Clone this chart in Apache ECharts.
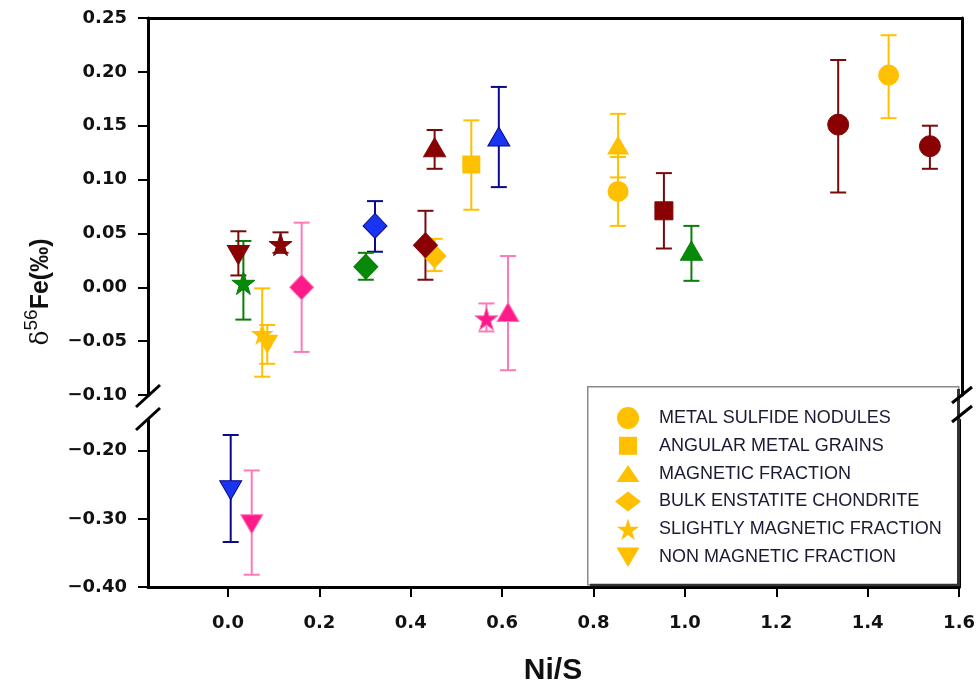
<!DOCTYPE html>
<html>
<head>
<meta charset="utf-8">
<script src="https://cdn.jsdelivr.net/npm/echarts@6/dist/echarts.min.js"></script>
<style>html,body{margin:0;padding:0;background:#fff}#c{width:978px;height:688px}</style>
</head>
<body>
<div id="c"></div>
<script>
// ---- data: [Ni/S, d56Fe, errLow, errHigh, group] ----
const categoryNames = ['METAL SULFIDE NODULES','ANGULAR METAL GRAINS','MAGNETIC FRACTION','BULK ENSTATITE CHONDRITE','SLIGHTLY MAGNETIC FRACTION','NON MAGNETIC FRACTION'];
const metalSulfideNodules = [
  [0.85, 0.089, 0.057, 0.121, 'gold'],
  [1.44, 0.197, 0.157, 0.234, 'gold'],
  [1.33, 0.151, 0.088, 0.211, 'red'],
  [1.53, 0.131, 0.110, 0.150, 'red']
];
const angularMetalGrains = [
  [0.53, 0.114, 0.072, 0.155, 'gold'],
  [0.95, 0.071, 0.036, 0.106, 'red']
];
const magneticFraction = [
  [0.85, 0.132, 0.102, 0.161, 'gold'],
  [0.45, 0.130, 0.110, 0.146, 'red'],
  [0.59, 0.140, 0.093, 0.186, 'blue'],
  [1.01, 0.034, 0.006, 0.057, 'green'],
  [0.61, -0.023, -0.077, 0.029, 'pink']
];
const bulkEnstatiteChondrite = [
  [0.45, 0.029, 0.015, 0.045, 'gold'],
  [0.43, 0.039, 0.007, 0.071, 'red'],
  [0.32, 0.057, 0.033, 0.080, 'blue'],
  [0.30, 0.019, 0.007, 0.032, 'green'],
  [0.16, 0.000, -0.060, 0.060, 'pink']
];
const slightlyMagneticFraction = [
  [0.074, -0.043, -0.083, -0.001, 'gold'],
  [0.114, 0.040, 0.032, 0.051, 'red'],
  [0.033, 0.004, -0.030, 0.043, 'green'],
  [0.563, -0.029, -0.041, -0.015, 'pink']
];
const nonMagneticFraction = [
  [0.085, -0.053, -0.071, -0.035, 'gold'],
  [0.022, 0.030, 0.011, 0.052, 'red'],
  [0.006, -0.258, -0.334, -0.177, 'blue'],
  [0.052, -0.308, -0.382, -0.229, 'pink']
];
const xTicks = [0.0, 0.2, 0.4, 0.6, 0.8, 1.0, 1.2, 1.4, 1.6];
const yTicksLower = [-0.40, -0.30, -0.20];

// ---- styles ----
const fill = {gold:'#FFC000', red:'#8B0000', blue:'#1A35F2', green:'#078A07', pink:'#FF1A8C'};
const bar  = {gold:'#FFC000', red:'#7A0A0A', blue:'#0A0A8C', green:'#0A7D0A', pink:'#FF78B8'};
const starPath = 'path://M50,0 L61,35 L98,35 L68,57 L79,91 L50,70 L21,91 L32,57 L2,35 L39,35 Z';
const invTri = 'path://M0,0 L20,0 L10,17 Z';
// legend icons drawn inside a common 26x22 frame (frame set by leading moveTo points)
const FR = 'path://M0,0 M26,22 ';
const starIcon = FR + 'M13,0.3 L15.6,8.5 L24.2,8.5 L17.2,13.6 L19.8,21.7 L13,16.7 L6.2,21.7 L8.8,13.6 L1.8,8.5 L10.4,8.5 Z';
const shapes = [
  {data: metalSulfideNodules, symbol:'circle', size:21, icon:'circle'},
  {data: angularMetalGrains, symbol:'rect', size:18, icon: FR + 'M4,2 L22,2 L22,20 L4,20 Z'},
  {data: magneticFraction, symbol:'triangle', size:[22,19], icon: FR + 'M13,2.5 L24.5,19.5 L1.5,19.5 Z'},
  {data: bulkEnstatiteChondrite, symbol:'diamond', size:[24,25], icon: FR + 'M13,1 L26,11 L13,21 L0,11 Z'},
  {data: slightlyMagneticFraction, symbol:starPath, size:23, icon: starIcon},
  {data: nonMagneticFraction, symbol:invTri, size:[22,19], icon: FR + 'M1.5,1.5 L24.5,1.5 L13,21 Z'}
];
const BREAK = -0.12;
const inGrid = (p, g) => g === 0 ? p[1] > BREAK : p[1] <= BREAK;

const series = [];
// error bars
[0,1].forEach(g => {
  const pts = [];
  shapes.forEach(s => s.data.forEach(p => { if (inGrid(p,g)) pts.push([p[0], p[2], p[3], p[4]]); }));
  series.push({
    type:'custom', xAxisIndex:g, yAxisIndex: g*2, z:2, silent:true,
    encode:{x:0, y:[1,2]},
    data: pts,
    renderItem: (params, api) => {
      const x = api.value(0);
      const lo = api.coord([x, api.value(1)]);
      const hi = api.coord([x, api.value(2)]);
      const col = bar[pts[params.dataIndex][3]];
      const hw = 8;
      const st = {stroke: col, lineWidth: 2};
      return {type:'group', children:[
        {type:'line', shape:{x1:lo[0], y1:lo[1], x2:hi[0], y2:hi[1]}, style:st},
        {type:'line', shape:{x1:lo[0]-hw, y1:lo[1], x2:lo[0]+hw, y2:lo[1]}, style:st},
        {type:'line', shape:{x1:hi[0]-hw, y1:hi[1], x2:hi[0]+hw, y2:hi[1]}, style:st}
      ]};
    }
  });
});
// markers
shapes.forEach((s, i) => {
  [0,1].forEach(g => {
    const pts = s.data.filter(p => inGrid(p,g));
    if (!pts.length && g === 1) return;
    series.push({
      type:'scatter', name: categoryNames[i], xAxisIndex:g, yAxisIndex:g*2, z:5,
      symbol: s.symbol, symbolSize: s.size,
      itemStyle:{color: fill.gold, opacity:1},
      data: pts.map(p => ({value:[p[0], p[1]], itemStyle:{color: fill[p[4]], opacity:1, borderColor: bar[p[4]], borderWidth: p[4]==='gold'?0:1}}))
    });
  });
});

const axisLine = {show:true, onZero:false, lineStyle:{color:'#000', width:3}};
const tickFont = {fontFamily:'DejaVu Sans', fontWeight:'bold', fontSize:18, color:'#111'};
const fmtY = v => { const t = Math.abs(v) < 1e-9 ? '0.00' : v.toFixed(2); return t.replace('-', '\u2212'); };

const option = {
  animation:false,
  backgroundColor:'#fff',
  grid:[
    {left:148, right:16, top:18, height:377},
    {left:148, right:16, top:420, height:167}
  ],
  xAxis:[
    {gridIndex:0, type:'value', min:-0.175, max:1.6, position:'top', axisLine:axisLine,
     axisTick:{show:false}, axisLabel:{show:false}, splitLine:{show:false}},
    {gridIndex:1, type:'value', min:-0.175, max:1.6, position:'bottom', axisLine:axisLine,
     axisTick:{show:true, length:10, lineStyle:{color:'#000', width:2}, customValues:xTicks},
     axisLabel:Object.assign({customValues:xTicks, margin:27, formatter:v=>v.toFixed(1)}, tickFont),
     splitLine:{show:false}}
  ],
  yAxis:[
    {gridIndex:0, type:'value', min:-0.10, max:0.25, interval:0.05, position:'left', axisLine:axisLine,
     axisTick:{show:true, length:10, lineStyle:{color:'#000', width:2}},
     axisLabel:Object.assign({margin:21, formatter:fmtY}, tickFont), splitLine:{show:false}},
    {gridIndex:0, type:'value', min:-0.10, max:0.25, position:'right', axisLine:axisLine,
     axisTick:{show:false}, axisLabel:{show:false}, splitLine:{show:false}},
    {gridIndex:1, type:'value', min:-0.40, max:-0.155, position:'left', axisLine:axisLine,
     axisTick:{show:true, length:10, lineStyle:{color:'#000', width:2}, customValues:yTicksLower},
     axisLabel:Object.assign({margin:21, formatter:fmtY, customValues:yTicksLower}, tickFont), splitLine:{show:false}},
    {gridIndex:1, type:'value', min:-0.40, max:-0.155, position:'right', axisLine:axisLine,
     axisTick:{show:false}, axisLabel:{show:false}, splitLine:{show:false}}
  ],
  legend:{
    orient:'vertical', left:610, top:402, itemWidth:26, itemHeight:22, itemGap:5.8, selectedMode:false,
    textStyle:{fontFamily:'Liberation Sans, Arial', fontSize:18, color:'#1a1a33', padding:[0,0,0,13]},
    data: categoryNames.map((n,i) => ({name:n, icon: shapes[i].icon, itemStyle:{color:fill.gold, borderWidth:0, opacity:1}}))
  },
  graphic:[
    {type:'rect', left:587, top:386, z:1, shape:{width:371, height:198},
     style:{fill:'#fff', stroke:'#8a8a8a', lineWidth:1.5}},
    {type:'line', z:2, shape:{x1:958.5, y1:389, x2:958.5, y2:585.5}, style:{stroke:'#333', lineWidth:3}},
    {type:'line', z:2, shape:{x1:590, y1:585, x2:960, y2:585}, style:{stroke:'#333', lineWidth:2.5}},
    // axis break marks
    {type:'line', shape:{x1:136, y1:407, x2:160, y2:385}, style:{stroke:'#000', lineWidth:3}, z:10},
    {type:'line', shape:{x1:136, y1:430, x2:160, y2:408}, style:{stroke:'#000', lineWidth:3}, z:10},
    {type:'line', shape:{x1:952, y1:403, x2:972, y2:387}, style:{stroke:'#000', lineWidth:3}, z:10},
    {type:'line', shape:{x1:952, y1:422, x2:972, y2:406}, style:{stroke:'#000', lineWidth:3}, z:10},
    {type:'text', x:38, y:292, rotation:Math.PI/2, z:10,
     style:{text:'{d|δ}{s|56}{b|Fe(‰)}', align:'center', verticalAlign:'middle',
       rich:{
         d:{fontFamily:'DejaVu Serif', fontSize:25, fill:'#111', verticalAlign:'bottom'},
         s:{fontFamily:'Liberation Sans', fontSize:19, fill:'#111', padding:[0,0,12,0], verticalAlign:'bottom'},
         b:{fontFamily:'Liberation Sans', fontWeight:'bold', fontSize:25, fill:'#111', verticalAlign:'bottom'}
       }}},
    {type:'text', x:553, y:671, z:10,
     style:{text:'Ni/S', fontFamily:'Liberation Sans', fontWeight:'bold', fontSize:30, fill:'#111', align:'center', verticalAlign:'middle'}}
  ],
  series: series
};
const chart = echarts.init(document.getElementById('c'), null, {renderer:'canvas'});
chart.setOption(option);
</script>
</body>
</html>
